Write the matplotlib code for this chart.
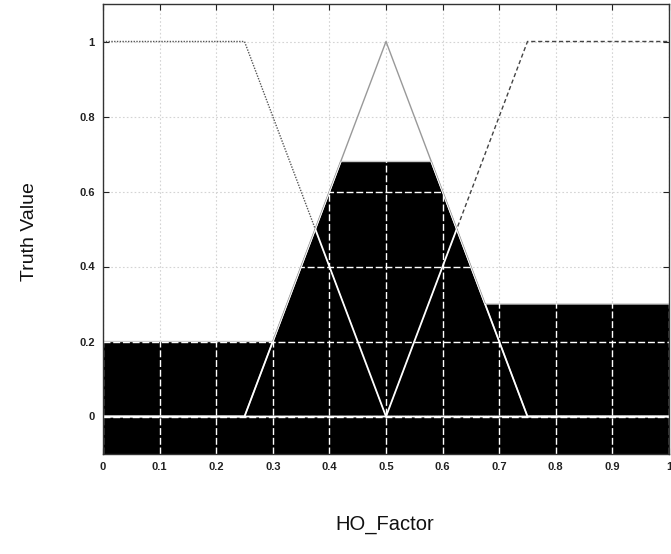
import numpy as np
import matplotlib.pyplot as plt
from matplotlib.patches import Polygon

# membership functions of HO_Factor (breakpoints)
low_x = [0.0, 0.25, 0.5, 1.0]
low_y = [1.0, 1.0, 0.0, 0.0]
med_x = [0.0, 0.25, 0.5, 0.75, 1.0]
med_y = [0.0, 0.0, 1.0, 0.0, 0.0]
high_x = [0.0, 0.5, 0.75, 1.0]
high_y = [0.0, 0.0, 1.0, 1.0]

# firing strengths used to clip each set
clip_low = 0.2
clip_med = 0.68
clip_high = 0.3

x_ticks = [0, 0.1, 0.2, 0.3, 0.4, 0.5, 0.6, 0.7, 0.8, 0.9, 1]
x_ticklabels = ['0', '0.1', '0.2', '0.3', '0.4', '0.5', '0.6', '0.7', '0.8', '0.9', '1']
y_ticks = [0, 0.2, 0.4, 0.6, 0.8, 1]
y_ticklabels = ['0', '0.2', '0.4', '0.6', '0.8', '1']

plt.rcParams['font.family'] = ['Liberation Sans', 'DejaVu Sans']

fig = plt.figure(figsize=(6.71, 5.54), dpi=100)
ax = fig.add_axes([103 / 671, 100 / 554, 566 / 671, 450 / 554])
ax.set_xlim(0, 1)
ax.set_ylim(-0.1, 1.1)

# aggregated (max of clipped sets) output, filled down to the axis bottom
xs = np.linspace(0, 1, 2001)
agg = np.maximum.reduce([
    np.minimum(np.interp(xs, low_x, low_y), clip_low),
    np.minimum(np.interp(xs, med_x, med_y), clip_med),
    np.minimum(np.interp(xs, high_x, high_y), clip_high),
])
verts = [(0, -0.1)] + list(zip(xs, agg)) + [(1, -0.1)]
area = Polygon(verts, closed=True, facecolor='black', edgecolor='none', zorder=2)
ax.add_patch(area)
ax.plot(xs, agg, color='#c8c8c8', lw=1.0, zorder=3)

# grid: light dotted on white, white inside the black area
for xv in x_ticks:
    ax.plot([xv, xv], [-0.1, 1.1], color='#d4d4d4', lw=0.8, ls=(0, (1.5, 2)), zorder=1)
    ln, = ax.plot([xv, xv], [-0.1, 1.1], color='white', lw=1.0, ls=(0, (5, 2)), zorder=4)
    ln.set_clip_path(area)
for yv in y_ticks:
    ax.plot([0, 1], [yv, yv], color='#d4d4d4', lw=0.8, ls=(0, (1.5, 2)), zorder=1)
    ln, = ax.plot([0, 1], [yv, yv], color='white', lw=1.0, ls=(0, (5, 2)), zorder=4)
    ln.set_clip_path(area)

# membership curves, gray over white, white over black
styles = [
    (low_x, low_y, (0, (1, 1)), '#555555'),
    (med_x, med_y, '-', '#999999'),
    (high_x, high_y, (0, (3, 2)), '#444444'),
]
for mx, my, ls, col in styles:
    ax.plot(mx, my, color=col, lw=1.0, ls=ls, zorder=3)
    ln, = ax.plot(mx, my, color='white', lw=1.3, ls='-', zorder=5)
    ln.set_clip_path(area)

ax.set_xticks(x_ticks)
ax.set_xticklabels(x_ticklabels)
ax.set_yticks(y_ticks)
ax.set_yticklabels(y_ticklabels)
ax.tick_params(direction='in', length=4, width=0.8, colors='#222222',
               labelsize=8, top=True, right=True, pad=6)
for lbl in ax.get_xticklabels() + ax.get_yticklabels():
    lbl.set_fontweight('bold')
for sp in ax.spines.values():
    sp.set_linewidth(1.0)
    sp.set_color('#333333')
    sp.set_zorder(6)

fig.text(385 / 671, 1 - 525 / 554, 'HO_Factor', fontsize=14.5, ha='center', va='center', color='#111111')
fig.text(30 / 671, 1 - 232 / 554, 'Truth Value', fontsize=14, ha='center', va='center',
         rotation=90, color='#111111')

fig.savefig('out.png', dpi=100)
